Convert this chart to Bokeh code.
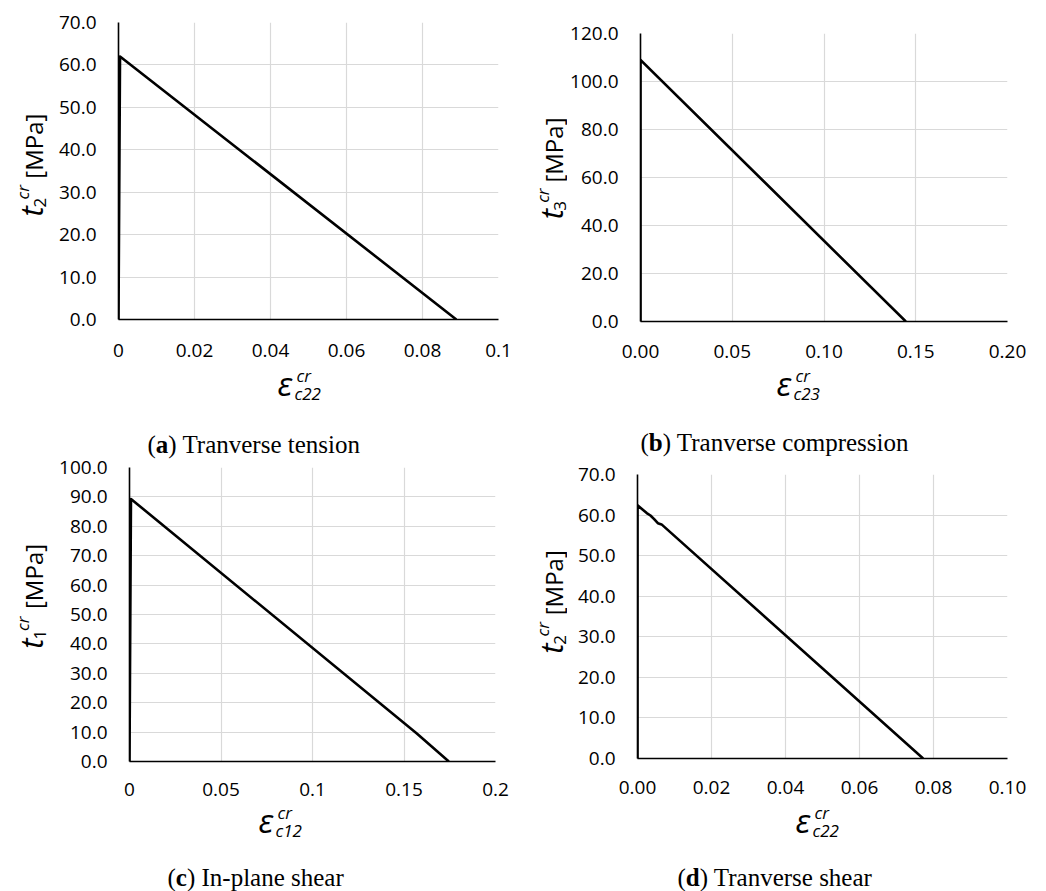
import math

from bokeh.embed import file_html
from bokeh.layouts import column, row
from bokeh.models import FixedTicker, Label, NumeralTickFormatter, Range1d
from bokeh.plotting import figure
from bokeh.resources import INLINE

# ---- cohesive traction-separation curves -------------------------------
# (a) transverse tension
strain_a = [0.0, 0.0004, 0.0889]
stress_a = [0.0, 62.0, 0.0]
xticks_a = [0.0, 0.02, 0.04, 0.06, 0.08, 0.1]
yticks_a = [0.0, 10.0, 20.0, 30.0, 40.0, 50.0, 60.0, 70.0]

# (b) transverse compression
strain_b = [0.0, 0.0, 0.1446]
stress_b = [0.0, 109.0, 0.0]
xticks_b = [0.0, 0.05, 0.10, 0.15, 0.20]
yticks_b = [0.0, 20.0, 40.0, 60.0, 80.0, 100.0, 120.0]

# (c) in-plane shear
strain_c = [0.0, 0.0008, 0.157, 0.1745]
stress_c = [0.0, 89.3, 9.5, 0.0]
xticks_c = [0.0, 0.05, 0.1, 0.15, 0.2]
yticks_c = [0.0, 10.0, 20.0, 30.0, 40.0, 50.0, 60.0, 70.0, 80.0, 90.0, 100.0]

# (d) transverse shear
strain_d = [0.0, 0.0, 0.0025, 0.0035, 0.0045, 0.0055, 0.0065, 0.0772]
stress_d = [0.0, 62.4, 60.5, 59.9, 59.0, 58.0, 57.7, 0.0]
xticks_d = [0.0, 0.02, 0.04, 0.06, 0.08, 0.10]
yticks_d = [0.0, 10.0, 20.0, 30.0, 40.0, 50.0, 60.0, 70.0]

captions = [("a", "Tranverse tension"), ("b", "Tranverse compression"),
            ("c", "In-plane shear"), ("d", "Tranverse shear")]
ylabel_index = ["2", "3", "1", "2"]
xlabel_index = ["c22", "c23", "c12", "c22"]

SANS = "Open Sans"
SERIF = "Liberation Serif"
# the svg text anchor sits this fraction of an em above the drawn baseline
BASELINE_LIFT = 0.30
# rotated labels are drawn slightly ahead of their anchor
ROTATED_LEAD = 18


def strip(x0, y0, w, h, flip_y):
    """A bare canvas for composed labels, addressed in page pixels."""
    y_range = Range1d(h, 0) if flip_y else Range1d(0, h)
    s = figure(width=w, height=h,
               x_range=Range1d(0, w), y_range=y_range,
               x_axis_type=None, y_axis_type=None,
               min_border_left=0, min_border_right=0,
               min_border_top=0, min_border_bottom=0,
               output_backend="svg", toolbar_location=None,
               background_fill_color="white", border_fill_color="white")
    s.outline_line_color = None

    def text(gx, gy, t, size_px, style="normal", font=SANS, angle=0.0):
        lift = BASELINE_LIFT * size_px
        if angle:
            gx -= lift
            gy += ROTATED_LEAD
        else:
            gy -= lift
        ly = (gy - y0) if flip_y else (y0 + h) - gy
        s.add_layout(Label(x=gx - x0, y=ly, text=t,
                           text_font=font, text_font_size=f"{size_px}px",
                           text_font_style=style, text_color="black",
                           text_align="left", text_baseline="alphabetic",
                           angle=angle))
    return s, text


def chart(xs, ys, xticks, yticks, xfmt, box, frame, standoff_x):
    """box = (x0, y0, x1, y1) of the figure, frame = (l, r, t, b), page px."""
    bx0, by0, bx1, by1 = box
    fl, fr, ft, fb = frame
    p = figure(width=bx1 - bx0, height=by1 - by0,
               x_range=Range1d(xticks[0], xticks[-1]),
               y_range=Range1d(yticks[0], yticks[-1]),
               min_border_left=fl - bx0, min_border_right=bx1 - fr,
               min_border_top=ft - by0, min_border_bottom=by1 - fb,
               output_backend="svg", toolbar_location=None,
               background_fill_color="white", border_fill_color="white")
    p.outline_line_color = None

    for ax, ticks in ((p.xaxis, xticks), (p.yaxis, yticks)):
        ax.ticker = FixedTicker(ticks=ticks)
        ax.axis_line_color = "black"
        ax.axis_line_width = 1.6
        ax.major_tick_line_color = None
        ax.minor_tick_line_color = None
        ax.major_tick_out = 0
        ax.major_tick_in = 0
        ax.major_label_text_font = SANS
        ax.major_label_text_font_size = "19px"
        ax.major_label_text_color = "black"
    p.xaxis.formatter = NumeralTickFormatter(format=xfmt)
    p.yaxis.formatter = NumeralTickFormatter(format="0.0")
    p.xaxis.major_label_standoff = standoff_x
    p.yaxis.major_label_standoff = 22

    p.xgrid.ticker = FixedTicker(ticks=xticks)
    p.ygrid.ticker = FixedTicker(ticks=yticks)
    for g in (p.xgrid, p.ygrid):
        g.grid_line_color = "#d9d9d9"
        g.grid_line_width = 1.2

    p.line(xs, ys, line_color="black", line_width=2.6, line_join="round")
    return p


def y_title(text, bx, by, idx):
    # t_i^cr [MPa], written bottom-to-top
    up = math.pi / 2
    text(bx, by + 5, "t", 31, "italic", angle=up)
    text(bx + 5, by - 6, idx, 17, angle=up)
    text(bx - 13, by - 16, "cr", 17, "italic", angle=up)
    text(bx, by - 42, "[MPa]", 24, angle=up)


def x_title(text, ex, by, idx):
    # epsilon_cij^cr
    text(ex, by, "\u03b5", 33, "italic")
    text(ex + 19, by - 13, "cr", 17, "italic")
    text(ex + 17, by + 5, idx, 17, "italic")


def caption(text, cx, by, letter, words):
    text(cx, by, "(", 25, font=SERIF)
    text(cx + 8.3, by, letter, 25, "bold", font=SERIF)
    adv = {"a": 12.5, "b": 13.9, "c": 11.1, "d": 13.9}[letter]
    text(cx + 8.3 + adv, by, ") " + words, 25, font=SERIF)


def panel(xs, ys, xticks, yticks, xfmt, origin, size, ystrip_w, frame,
          chart_bottom, standoff_x, yt, xt, cap, idx):
    ox, oy = origin
    w, h = size
    ch = chart_bottom - oy
    ys_fig, ytext = strip(ox, oy, ystrip_w, ch, True)
    p = chart(xs, ys, xticks, yticks, xfmt,
              (ox + ystrip_w, oy, ox + w, chart_bottom), frame, standoff_x)
    xs_fig, xtext = strip(ox, chart_bottom, w, h - ch, False)
    y_title(ytext, yt[0], yt[1], ylabel_index[idx])
    x_title(xtext, xt[0], xt[1], xlabel_index[idx])
    caption(xtext, cap[0], cap[1], *captions[idx])
    return column(row(ys_fig, p), xs_fig)


TOP_H, BOTTOM_H = 459, 432

pan_a = panel(strain_a, stress_a, xticks_a, yticks_a, "0.[00]",
              (0, 0), (523, TOP_H), 50, (118, 498, 22, 319), 369, 24,
              (40, 218), (277, 393), (147, 451), 0)
pan_b = panel(strain_b, stress_b, xticks_b, yticks_b, "0.00",
              (523, 0), (523, TOP_H), 44, (639, 1007, 33, 321), 369, 23,
              (560, 215), (776, 393), (640, 449), 1)
pan_c = panel(strain_c, stress_c, xticks_c, yticks_c, "0.[00]",
              (0, TOP_H), (523, BOTTOM_H), 50, (129, 495, 467, 761), 806, 21,
              (40, 650), (258, 830), (167, 884), 2)
pan_d = panel(strain_d, stress_d, xticks_d, yticks_d, "0.00",
              (523, TOP_H), (523, BOTTOM_H), 44, (637, 1007, 474, 758), 806,
              22, (560, 655), (795, 830), (677, 884), 3)

layout = column(row(pan_a, pan_b), row(pan_c, pan_d))

with open("out.html", "w") as f:
    f.write(file_html(layout, INLINE))
